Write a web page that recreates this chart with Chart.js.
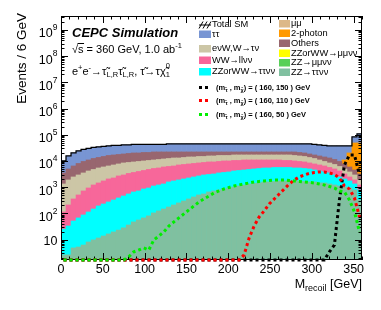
<!DOCTYPE html>
<html>
<head>
<meta charset="utf-8">
<script src="https://cdn.jsdelivr.net/npm/chart.js@4.4.0/dist/chart.umd.min.js"></script>
<style>
  html, body { margin: 0; padding: 0; background: #fff; }
</style>
</head>
<body>
<canvas id="chart" width="381" height="310"></canvas>
<script>
// 60 bins of 6 GeV in M_recoil
const binWidth = 6;
const nBins = 60;
const binCenters = Array.from({length: nBins}, (_, i) => (i + 0.5) * binWidth);
const binEdges = Array.from({length: nBins + 1}, (_, i) => i * binWidth);

const xTickLabels = [0, 50, 100, 150, 200, 250, 300, 350];
const yExponents = [1, 2, 3, 4, 5, 6, 7, 8, 9];

// stacked backgrounds, read as the top of each layer of the stack
const zzTauTop = [2.6, 2.6, 4.8, 5.2, 6.2, 8.1, 9.7, 11.5, 13.7, 16.4, 19.5, 23, 28, 36, 47, 56, 67, 80, 104, 124,
  147, 175, 209, 250, 297, 355, 423, 504, 550, 656, 716, 782, 853, 931, 1018, 1110, 1213, 1324, 1383, 1446,
  1580, 1580, 1650, 1725, 1725, 1725, 1725, 1725, 1650, 1580, 1580, 1446, 1446, 1324, 1213, 1110, 1018, 931, 782, 324];
const zzwwTauTop = [25, 33, 51, 67, 87, 113, 147, 192, 228, 272, 324, 387, 461, 550, 656, 716, 853, 931, 1110, 1213,
  1324, 1580, 1725, 1884, 2057, 2245, 2451, 2677, 2922, 3054, 3190, 3484, 3640, 3804, 4150, 4338, 4530, 4740, 4950, 5170,
  5400, 5400, 5650, 5650, 5650, 5650, 5400, 5400, 5170, 4950, 4530, 4150, 3804, 3484, 2922, 2451, 2057, 1725, 1324, 782];
const wwTop = [113, 209, 355, 504, 716, 931, 1213, 1446, 1725, 2057, 2245, 2677, 2922, 3335, 3640, 3972, 4338, 4740, 5170, 5400,
  5900, 6170, 6440, 7030, 7350, 7680, 8030, 8390, 8770, 9160, 9160, 9570, 10000, 10000, 10450, 10450, 10910, 10910, 10910, 10910,
  10910, 10910, 10910, 10910, 10450, 10450, 10000, 9570, 9160, 8390, 7680, 7030, 6440, 5650, 4950, 4150, 3190, 2451, 1884, 1213];
const enuWTop = [1324, 1884, 2451, 2922, 3484, 4150, 4740, 5400, 5900, 6440, 7030, 7680, 8390, 8770, 9160, 9570, 10000, 10450, 10910, 11400,
  11910, 12440, 13000, 13000, 13590, 14200, 14200, 14840, 14840, 15510, 15510, 16210, 16210, 16210, 16940, 16940, 16940, 16940, 16940, 16940,
  16940, 16940, 16940, 16940, 16940, 16940, 16210, 15510, 14840, 13590, 12440, 10910, 9570, 8390, 7350, 6170, 4950, 3804, 2922, 1884];
const othersTop = [3484, 4950, 6440, 8030, 9570, 10910, 12440, 13590, 14840, 16210, 16940, 17700, 18500, 19330, 20200, 20200, 21110, 21110, 22060, 22060,
  22060, 22060, 22060, 22060, 22060, 22060, 22060, 22060, 22060, 22060, 22060, 22060, 22060, 22060, 22060, 22060, 22060, 22060, 22060, 22060,
  22060, 22060, 22060, 22060, 22060, 22060, 22060, 21110, 20200, 18500, 16940, 15510, 14200, 13000, 11400, 9570, 7680, 5900, 4530, 3190];
const photonTop = [null, null, null, null, null, null, null, null, null, null, null, null, null, null, null, null, null, null, null, null,
  null, null, null, null, null, null, null, null, null, null, null, null, null, null, null, null, null, null, null, null,
  null, null, null, null, null, null, null, null, null, null, null, null, null, null, null, null, 10910, 20200, 48640, 48640];
// top of the tau tau layer = Total SM
const totalSM = [10000, 15510, 20200, 24100, 27500, 30000, 32750, 34200, 35750, 37400, 39060, 39060, 40830, 40830, 42670, 42670, 42670, 42670, 42670, 42670,
  42670, 44600, 44600, 44600, 44600, 44600, 44600, 44600, 44600, 44600, 44600, 44600, 44600, 44600, 44600, 44600, 44600, 44600, 44600, 44600,
  44600, 44600, 44600, 44600, 44600, 44600, 44600, 44600, 44600, 44600, 42670, 40830, 39060, 37400, 37400, 37400, 37400, 37400, 82400, 107300];

// signal points, (m_stau, m_chi) in GeV; 0 = empty bin
const sig150 = [0, 0, 0, 0, 0, 0, 0, 0, 0, 0, 0, 0, 0, 0, 0, 0, 0, 0, 0, 0,
  0, 0, 0, 0, 0, 0, 0, 0, 0, 0, 0, 0, 0, 0, 0, 0, 0, 0, 0, 0,
  0, 0, 0, 0, 0, 0, 0, 0, 0, 0, 0, 0, 0, 3.4, 6.2, 324, 7030, 16940, 16940, 2922];
const sig110 = [0, 0, 0, 0, 0, 0, 0, 0, 0, 0, 0, 0, 0, 0, 0, 0, 0, 0, 0, 0,
  0, 0, 0, 0, 0, 0, 0, 0, 0, 0, 0, 0, 0, 0, 0, 0, 2.6, 11.5, 33, 73,
  124, 228, 355, 550, 853, 1324, 1884, 2451, 2922, 3335, 3640, 3804, 3804, 3484, 3054, 2245, 1110, 853, 387, 73];
const sig50 = [0, 0, 0, 0, 0, 0, 0, 0, 0, 0, 0, 0, 0, 2.2, 3.4, 4.0, 4.8, 4.0, 9.7, 13.7,
  19.5, 33, 47, 67, 95, 135, 192, 272, 355, 461, 600, 716, 853, 973, 1110, 1213, 1324, 1446, 1580, 1650,
  1725, 1802, 1884, 1884, 1884, 1802, 1725, 1650, 1580, 1510, 1446, 1324, 1213, 1062, 931, 716, 656, 324, 113, 19.5];

const yMin = 1.66;
const yMax = 3.4e9;
const FONT = '"Liberation Sans", Arial, Helvetica, sans-serif';

const layers = [
  {label: 'ττ', top: totalSM, color: '#7895d3'},
  {label: '2-photon', top: photonTop, color: '#ff9900'},
  {label: 'Others', top: othersTop, color: '#98666f'},
  {label: 'eνW,W→τν', top: enuWTop, color: '#ccc6a6'},
  {label: 'WW→llνν', top: wwTop, color: '#f7679a'},
  {label: 'ZZorWW→ττνν', top: zzwwTauTop, color: '#00ffff'},
  {label: 'ZZ→ττνν', top: zzTauTop, color: '#80c0a0'},
];

const signals = [
  {values: sig150, color: '#000000', text: '( 160, 150 )'},
  {values: sig110, color: '#ff0000', text: '( 160, 110 )'},
  {values: sig50, color: '#00ee00', text: '( 160, 50 )'},
];

const legendLeft = [
  {label: 'Total SM', y: 24.5, hatch: true},
  {label: 'ττ', y: 34, color: '#7895d3'},
  {label: 'eνW,W→τν', y: 48.5, color: '#ccc6a6'},
  {label: 'WW→llνν', y: 60, color: '#f7679a'},
  {label: 'ZZorWW→ττνν', y: 71.5, color: '#00ffff'},
];
const legendRight = [
  {label: 'μμ', y: 23.5, color: '#dcb888'},
  {label: '2-photon', y: 33, color: '#ff9900'},
  {label: 'Others', y: 43, color: '#98666f'},
  {label: 'ZZorWW→μμνν', y: 53, color: '#ffff00'},
  {label: 'ZZ→μμνν', y: 62.5, color: '#58d058'},
  {label: 'ZZ→ττνν', y: 72, color: '#80c0a0'},
];
const legendSignalY = [87.5, 100.5, 114.5];

const datasets = [];
layers.forEach(function (l, k) {
  datasets.push({
    type: 'bar',
    label: l.label,
    data: l.top.map((v, i) => ({x: binCenters[i], y: v})),
    backgroundColor: l.color,
    borderWidth: 0,
    grouped: false,
    barPercentage: 1,
    categoryPercentage: 1,
    order: 20 - k,
  });
});
datasets.push({
  type: 'line',
  label: 'Total SM',
  data: binEdges.map((e, i) => ({x: e, y: totalSM[Math.min(i, nBins - 1)]})),
  borderColor: '#000',
  borderWidth: 1.2,
  pointRadius: 0,
  stepped: 'before',
  order: 5,
});
signals.forEach(function (s, k) {
  datasets.push({
    type: 'line',
    label: 'signal ' + s.text,
    data: s.values.map((v, i) => ({x: binCenters[i], y: v === 0 ? yMin : v})),
    borderColor: s.color,
    borderWidth: 3,
    borderDash: [3, 3],
    borderCapStyle: 'butt',
    pointRadius: 0,
    tension: 0,
    clip: false,
    order: 2 - k,
  });
});

function drawRich(ctx, x, y, parts, align) {
  const fontOf = p => (p.style || '') + ' ' + p.size + 'px ' + FONT;
  let w = 0;
  parts.forEach(function (p) {
    ctx.font = fontOf(p);
    if (!p.stay) w += ctx.measureText(p.t).width;
  });
  let cx = align === 'right' ? x - w : x;
  ctx.textAlign = 'left';
  ctx.textBaseline = 'middle';
  parts.forEach(function (p) {
    ctx.font = fontOf(p);
    ctx.fillText(p.t, cx, y + (p.dy || 0));
    if (!p.stay) cx += ctx.measureText(p.t).width;
  });
}

let frameDrawn = false;
function drawFrame(chart) {
  const {ctx, chartArea: a, scales: {x, y}} = chart;
  ctx.save();
  ctx.setLineDash([]);
  ctx.strokeStyle = '#000';
  ctx.lineWidth = 1;
  ctx.strokeRect(a.left + 0.5, a.top + 0.5, a.right - a.left - 1, a.bottom - a.top - 1);
  ctx.beginPath();
  for (let v = 0; v <= 360; v += 10) {
    const px = Math.round(x.getPixelForValue(v)) + 0.5;
    const len = v % 50 === 0 ? 7 : 3.5;
    ctx.moveTo(px, a.bottom); ctx.lineTo(px, a.bottom - len);
    ctx.moveTo(px, a.top); ctx.lineTo(px, a.top + len);
  }
  for (let d = 0; d <= 9; d++) {
    for (let k = 1; k <= 9; k++) {
      const v = k * Math.pow(10, d);
      if (v < yMin || v > yMax) continue;
      const py = Math.round(y.getPixelForValue(v)) + 0.5;
      const len = k === 1 ? 7 : 3.5;
      ctx.moveTo(a.left, py); ctx.lineTo(a.left + len, py);
      ctx.moveTo(a.right, py); ctx.lineTo(a.right - len, py);
    }
  }
  ctx.stroke();
  ctx.restore();
  frameDrawn = true;
}

const decorPlugin = {
  id: 'decor',
  beforeDraw() {
    frameDrawn = false;
  },
  beforeDatasetDraw(chart, args) {
    // axes go over the stack but under the signal curves
    const ds = args.meta._dataset || chart.data.datasets[args.index];
    if (!frameDrawn && ds && String(ds.label).indexOf('signal') === 0) drawFrame(chart);
  },
  afterDatasetsDraw(chart) {
    if (!frameDrawn) drawFrame(chart);
  },
  afterDraw(chart) {
    const {ctx, chartArea: a, scales: {x, y}} = chart;
    ctx.save();
    ctx.fillStyle = '#000';

    // x tick labels
    ctx.font = '12.5px ' + FONT;
    ctx.textAlign = 'center';
    ctx.textBaseline = 'middle';
    xTickLabels.forEach(v => ctx.fillText(String(v), x.getPixelForValue(v), 270));

    // y tick labels
    yExponents.forEach(function (e) {
      const py = y.getPixelForValue(Math.pow(10, e));
      if (e === 1) {
        drawRich(ctx, 57.5, py + 2, [{t: '10', size: 12.5}], 'right');
      } else {
        drawRich(ctx, 57.5, py, [{t: '10', size: 12.5, dy: 4}, {t: String(e), size: 8.5, dy: -2}], 'right');
      }
    });

    // axis titles
    drawRich(ctx, a.right, 285, [
      {t: 'M', size: 12.5},
      {t: 'recoil', size: 9, dy: 4},
      {t: ' [GeV]', size: 12.5},
    ], 'right');
    ctx.save();
    ctx.translate(22, 13);
    ctx.rotate(-Math.PI / 2);
    drawRich(ctx, 0, 0, [{t: 'Events / 6 GeV', size: 13.5}], 'right');
    ctx.restore();

    // labels in the plot
    drawRich(ctx, 72, 33, [{t: 'CEPC Simulation', size: 13, style: 'italic bold'}]);
    drawRich(ctx, 72, 50, [
      {t: '√s = 360 GeV, 1.0 ab', size: 11},
      {t: '-1', size: 7.5, dy: -4},
    ]);
    // overline of the square root
    ctx.font = '11px ' + FONT;
    const rootW = ctx.measureText('√').width;
    const sW = ctx.measureText('s').width;
    ctx.fillRect(72 + rootW - 0.5, 43, sW + 1, 1);
    drawRich(ctx, 72, 72, [
      {t: 'e', size: 11}, {t: '+', size: 7.5, dy: -4},
      {t: 'e', size: 11}, {t: '-', size: 7.5, dy: -4},
      {t: '→τ̃', size: 11}, {t: 'L,R', size: 7.5, dy: 3},
      {t: 'τ̃', size: 11}, {t: 'L,R', size: 7.5, dy: 3},
      {t: ', τ̃→τχ̃', size: 11},
      {t: '1', size: 7.5, dy: 3, stay: true}, {t: '0', size: 7.5, dy: -6},
    ]);

    // legend
    legendLeft.forEach(function (item) {
      if (item.hatch) {
        ctx.strokeStyle = '#000';
        ctx.lineWidth = 1;
        ctx.beginPath();
        ctx.moveTo(199, item.y + 0.5); ctx.lineTo(211, item.y + 0.5);
        for (let h = 0; h < 3; h++) {
          ctx.moveTo(199 + h * 4, item.y + 4); ctx.lineTo(203 + h * 4, item.y - 3);
        }
        ctx.stroke();
      } else {
        ctx.fillStyle = item.color;
        ctx.fillRect(199, item.y - 3.5, 12, 7.5);
      }
      ctx.fillStyle = '#000';
      drawRich(ctx, 212, item.y, [{t: item.label, size: 9.3}]);
    });
    legendRight.forEach(function (item) {
      ctx.fillStyle = item.color;
      ctx.fillRect(279, item.y - 3.5, 11, 7.5);
      ctx.fillStyle = '#000';
      drawRich(ctx, 291, item.y, [{t: item.label, size: 9.3}]);
    });
    signals.forEach(function (s, k) {
      const ly = legendSignalY[k];
      ctx.strokeStyle = s.color;
      ctx.lineWidth = 3;
      ctx.setLineDash([3, 3]);
      ctx.beginPath();
      ctx.moveTo(199, ly); ctx.lineTo(211, ly);
      ctx.stroke();
      ctx.setLineDash([]);
      ctx.fillStyle = '#000';
      drawRich(ctx, 216, ly, [
        {t: '(m', size: 7.5, style: 'bold'},
        {t: 'τ̃', size: 5.5, style: 'bold', dy: 2.5},
        {t: ' , m', size: 7.5, style: 'bold'},
        {t: 'χ̃', size: 5.5, style: 'bold', dy: 2.5},
        {t: ') = ' + s.text + ' GeV', size: 7.5, style: 'bold'},
      ]);
    });
    ctx.restore();
  }
};

new Chart(document.getElementById('chart'), {
  type: 'bar',
  data: {datasets: datasets},
  options: {
    responsive: false,
    animation: false,
    events: [],
    layout: {padding: {left: 61, top: 16, right: 19, bottom: 50}},
    plugins: {legend: {display: false}, tooltip: {enabled: false}},
    scales: {
      x: {type: 'linear', min: 0, max: 360, offset: false, display: false},
      y: {type: 'logarithmic', min: yMin, max: yMax, display: false},
    },
  },
  plugins: [decorPlugin],
});
</script>
</body>
</html>
